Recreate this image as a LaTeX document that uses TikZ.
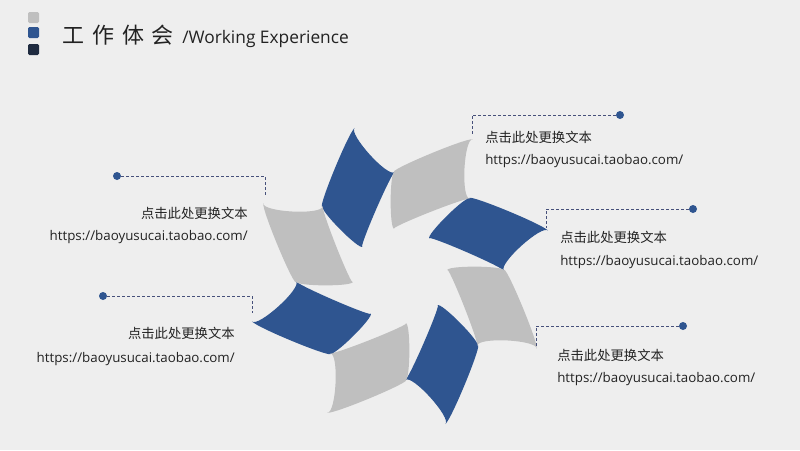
\documentclass[tikz,border=0pt]{standalone}
\usepackage{fontspec}
\setmainfont{Open Sans}
\newfontfamily\cjk{Noto Sans CJK SC}
\newfontfamily\cjktitle[WordSpace=1.6]{Noto Sans CJK SC}
\newfontfamily\lat{Open Sans}
\definecolor{bg}{HTML}{EEEEEE}
\definecolor{bladeblue}{HTML}{2F5590}
\definecolor{bladegray}{HTML}{BFBFBF}
\definecolor{navy}{HTML}{1F2B40}
\definecolor{dashcol}{HTML}{46507A}
\definecolor{txt}{HTML}{222222}
\begin{document}
\begin{tikzpicture}[x=0.75pt,y=-0.75pt,
  blade/.pic={\fill[pic actions] (-37.4,-29.2)
     .. controls +(-3.8,3.25) and +(-3.8,3.25) .. (-77.3,-69.6)
     .. controls +(-6.8,5.85) and +(-6.8,5.85) .. (-45.3,-148.2)
     .. controls +(-6.84,5.85) and +(-6.84,5.85) .. (-5.4,-103.9)
     .. controls +(-5.3,4.5) and +(-5.3,4.5) .. (-37.4,-29.2) -- cycle;},
  sq/.style={rectangle, minimum size=8.25pt, inner sep=0pt, rounded corners=1pt},
  dot/.style={circle, fill=bladeblue, minimum size=6pt, inner sep=0pt},
  conn/.style={draw=dashcol, line width=0.75pt, dash pattern=on 2.25pt off 1.5pt},
  cn/.style={inner sep=0pt, text=txt, font=\cjk\fontsize{10pt}{12pt}\selectfont},
  url/.style={inner sep=0pt, text=txt, font=\lat\fontsize{10pt}{12pt}\selectfont}
]
\fill[bg] (0,0) rectangle (800,450);

% header
\node[sq, fill=bladegray] (s1) at (33.5,17.5) {};
\node[sq, fill=bladeblue] (s2) at (33.5,32.5) {};
\node[sq, fill=navy] (s3) at (33.5,49.5) {};
\node[inner sep=0pt, anchor=base west, text=txt, font=\cjktitle\fontsize{16.5pt}{18pt}\selectfont] (title) at (62,43.5) {工 作 体 会};
\node[inner sep=0pt, anchor=base west, text=txt, font=\lat\fontsize{13pt}{15pt}\selectfont] (subtitle) at (182,43.5) {/Working Experience};

% pinwheel
\foreach \k/\c in {0/bladeblue,1/bladegray,2/bladeblue,3/bladegray,4/bladeblue,5/bladegray,6/bladeblue,7/bladegray}
  \pic[fill=\c, rotate=-45*\k] at (400,276) {blade};

% label 1 (top right)
\node[dot] (d1) at (620,115) {};
\coordinate (e1) at (472,135);
\draw[conn] (d1) -| (e1);
\node[cn, anchor=west] (t1) at (485,137) {点击此处更换文本};
\node[url, anchor=west] (u1) at (485,161) {https://baoyusucai.taobao.com/};

% label 2 (right middle)
\node[dot] (d2) at (693,209) {};
\coordinate (e2) at (546,228);
\draw[conn] (d2) -| (e2);
\node[cn, anchor=west] (t2) at (560,237) {点击此处更换文本};
\node[url, anchor=west] (u2) at (560,262) {https://baoyusucai.taobao.com/};

% label 3 (bottom right)
\node[dot] (d3) at (683,326) {};
\coordinate (e3) at (536,347);
\draw[conn] (d3) -| (e3);
\node[cn, anchor=west] (t3) at (557,355) {点击此处更换文本};
\node[url, anchor=west] (u3) at (557,379) {https://baoyusucai.taobao.com/};

% label 4 (left top)
\node[dot] (d4) at (117,176) {};
\coordinate (e4) at (265,195);
\draw[conn] (d4) -| (e4);
\node[cn, anchor=east] (t4) at (248,213) {点击此处更换文本};
\node[url, anchor=east] (u4) at (248,237) {https://baoyusucai.taobao.com/};

% label 5 (left bottom)
\node[dot] (d5) at (103,296) {};
\coordinate (e5) at (252,313);
\draw[conn] (d5) -| (e5);
\node[cn, anchor=east] (t5) at (235,333) {点击此处更换文本};
\node[url, anchor=east] (u5) at (235,359) {https://baoyusucai.taobao.com/};
\end{tikzpicture}
\end{document}
